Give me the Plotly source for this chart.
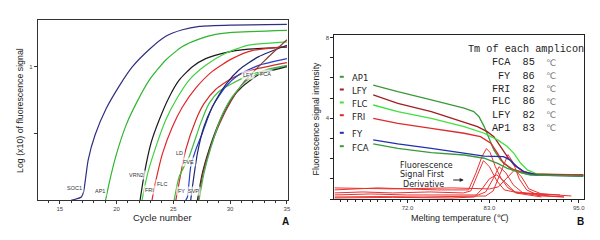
import plotly.graph_objects as go

# page body has an 8px margin: the figure is sized to fit the 600x240 window
OFF = 8
W, H = 600 - OFF, 240 - OFF

# ---------------- Panel A : amplification curves (cycle, log10 signal) -------------
soc1_x = [16.0, 16.9, 17.1, 17.5, 18.1, 19.1, 20.3, 21.4, 22.9, 24.3, 25.8, 27.3, 30.2, 35.0]
soc1_y = [-1.99, -1.94, -1.86, -1.39, -1.02, -0.62, -0.27, 0.0, 0.26, 0.45, 0.55, 0.60, 0.62, 0.63]
ap1_x = [19.03, 19.38, 19.96, 20.84, 21.72, 22.88, 24.34, 25.80, 27.26, 28.72, 30.18, 35.0]
ap1_y = [-1.99, -1.71, -1.32, -0.87, -0.55, -0.20, 0.10, 0.30, 0.41, 0.48, 0.51, 0.54]
vrn2_x = [22.07, 22.45, 23.03, 23.76, 24.64, 25.51, 26.68, 27.85, 29.6, 31.64, 35.0]
vrn2_y = [-1.99, -1.59, -1.14, -0.79, -0.45, -0.20, 0.0, 0.12, 0.21, 0.26, 0.29]
fri_x = [22.24, 22.74, 23.47, 24.34, 25.22, 26.39, 27.85, 29.6, 31.64, 35.0]
fri_y = [-1.99, -1.59, -1.19, -0.79, -0.50, -0.20, 0.02, 0.20, 0.32, 0.37]
flc_x = [23.12, 23.47, 24.05, 24.93, 25.80, 26.97, 28.43, 30.18, 31.93, 35.0]
flc_y = [-1.99, -1.69, -1.29, -0.89, -0.60, -0.32, -0.07, 0.12, 0.24, 0.30]
ld_x = [25.22, 25.66, 26.09, 26.97, 27.70, 28.72, 30.18, 31.93, 35.0]
ld_y = [-1.99, -1.59, -1.24, -0.80, -0.55, -0.34, -0.17, -0.05, 0.06]
fve_x = [25.07, 25.51, 26.39, 27.41, 28.14, 29.01, 30.18, 31.93, 35.0]
fve_y = [-1.99, -1.64, -1.34, -0.84, -0.55, -0.37, -0.25, -0.11, 0.01]
fy_x = [26.09, 26.24, 26.53, 26.97, 27.55, 28.43, 29.6, 30.77, 32.52, 35.0]
fy_y = [-1.99, -1.94, -1.49, -1.24, -0.99, -0.60, -0.30, -0.12, 0.02, 0.12]
svp_x = [26.53, 26.68, 27.12, 27.70, 28.43, 29.6, 30.77, 32.52, 35.0]
svp_y = [-1.99, -1.79, -1.29, -0.89, -0.60, -0.27, -0.05, 0.15, 0.32]
blk_x = [27.12, 27.55, 28.14, 29.01, 30.04, 31.06, 32.52, 35.0]
blk_y = [-1.99, -1.59, -1.24, -0.84, -0.50, -0.30, -0.12, 0.0]
brn_x = [27.2, 27.61, 28.2, 29.07, 30.09, 31.35, 33.1, 35.0]
brn_y = [-1.99, -1.59, -1.24, -0.85, -0.51, -0.20, 0.10, 0.40]
fca_x = [27.26, 27.7, 28.28, 29.16, 30.18, 31.35, 33.1, 35.0]
fca_y = [-1.99, -1.59, -1.22, -0.77, -0.45, -0.22, -0.05, 0.02]

a_series = [
    (soc1_x, soc1_y, '#2e2e82'), (ap1_x, ap1_y, '#2fb52f'), (vrn2_x, vrn2_y, '#1a1a1a'),
    (fri_x, fri_y, '#3fd03f'), (flc_x, flc_y, '#e0262a'), (ld_x, ld_y, '#d42a2a'),
    (fve_x, fve_y, '#3cbf3c'), (fy_x, fy_y, '#2a3fc8'), (svp_x, svp_y, '#1f2a6e'),
    (blk_x, blk_y, '#222222'), (brn_x, brn_y, '#8a4030'), (fca_x, fca_y, '#4caf50'),
]

a_label_text = ['SOC1', 'AP1', 'VRN2', 'FRI', 'FLC', 'LD', 'FVE', 'FY', 'SVP', 'LFY', 'FCA']
a_label_x = [16.31, 18.5, 21.72, 22.94, 23.96, 25.51, 26.3, 25.74, 26.77, 31.55, 33.1]
a_label_y = [-1.81, -1.85, -1.61, -1.83, -1.74, -1.28, -1.42, -1.85, -1.85, -0.12, -0.11]

a_xticks = [15, 20, 25, 30, 35]

# ---------------- Panel B : melting curves (temperature, intensity) -------------
m_ap1_x = [67.4, 70.7, 75.2, 79.6, 80.9, 81.6, 82.3, 82.9, 83.6, 84.5, 85.8, 87.6, 89.4, 95.6]
m_ap1_y = [5.65, 5.32, 4.91, 4.50, 4.33, 4.08, 3.59, 3.01, 2.43, 1.93, 1.52, 1.27, 1.19, 1.19]
m_lfy_x = [67.4, 70.7, 75.2, 78.7, 81.4, 82.7, 83.6, 84.5, 85.4, 86.3, 87.6, 89.4, 95.6]
m_lfy_y = [5.16, 4.74, 4.33, 3.92, 3.59, 3.34, 3.09, 2.60, 2.10, 1.69, 1.36, 1.19, 1.19]
m_flc_x = [67.4, 70.7, 75.2, 79.6, 82.3, 84.1, 85.4, 86.3, 87.2, 88.1, 89.4, 95.6]
m_flc_y = [4.66, 4.33, 4.00, 3.59, 3.26, 2.93, 2.60, 2.26, 1.77, 1.44, 1.24, 1.14]
m_fri_x = [67.4, 70.7, 75.2, 79.6, 81.8, 83.2, 84.1, 84.9, 86.3, 88.5, 95.6]
m_fri_y = [4.00, 3.75, 3.50, 3.26, 3.09, 2.76, 2.26, 1.77, 1.44, 1.24, 1.19]
m_fy_x = [67.4, 70.7, 75.2, 79.6, 82.3, 84.9, 85.8, 86.7, 87.6, 89.4, 95.6]
m_fy_y = [2.93, 2.73, 2.51, 2.26, 2.13, 2.10, 1.93, 1.60, 1.36, 1.19, 1.14]
m_fca_x = [67.4, 70.7, 75.2, 79.6, 82.3, 84.1, 85.4, 86.7, 88.5, 95.6]
m_fca_y = [2.73, 2.51, 2.30, 2.18, 2.02, 1.77, 1.52, 1.36, 1.19, 1.14]

b_series = [
    (m_ap1_x, m_ap1_y, '#3a9a3a'), (m_lfy_x, m_lfy_y, '#a02020'), (m_flc_x, m_flc_y, '#40e040'),
    (m_fri_x, m_fri_y, '#dd2b2b'), (m_fy_x, m_fy_y, '#2030b0'), (m_fca_x, m_fca_y, '#3a9a3a'),
]

# first-derivative curves
d1_x = [62.2, 65, 68, 72, 76, 80.2, 81.2, 82.0, 82.6, 83.1, 83.8, 84.6, 85.5, 86.5, 88, 92.5]
d1_y = [0.45, 0.5, 0.55, 0.5, 0.45, 0.45, 1.3, 2.1, 2.5, 2.3, 1.6, 1.0, 0.55, 0.35, 0.3, 0.2]
d2_x = [62.2, 66, 70, 75, 79.5, 80.5, 81.4, 82.2, 83.0, 84.0, 85.0, 87, 91]
d2_y = [0.3, 0.35, 0.3, 0.35, 0.3, 0.4, 1.2, 1.9, 1.6, 0.9, 0.45, 0.3, 0.2]
d3_x = [62.2, 67, 72, 78, 81.5, 82.5, 83.5, 84.3, 85.2, 86.2, 87.5, 90, 93]
d3_y = [0.2, 0.25, 0.2, 0.2, 0.2, 0.35, 1.0, 1.6, 1.3, 0.7, 0.3, 0.15, 0.1]
d4_x = [62.2, 68, 74, 80, 82.5, 83.5, 84.6, 85.5, 86.2, 87.0, 88.0, 89.5, 93]
d4_y = [0.1, 0.12, 0.1, 0.12, 0.15, 0.4, 1.4, 2.2, 1.8, 1.0, 0.45, 0.2, 0.1]
d5_x = [62.2, 70, 78, 83, 84.2, 85.3, 86.4, 87.3, 88.3, 90, 94]
d5_y = [0.55, 0.5, 0.55, 0.5, 0.6, 1.0, 1.45, 1.1, 0.5, 0.25, 0.15]
d6_x = [62.2, 70, 78, 81.0, 82.0, 83.0, 84.0, 85.2, 86.5, 90]
d6_y = [0.05, 0.08, 0.05, 0.1, 0.5, 1.0, 1.2, 0.8, 0.3, 0.1]
deriv = [(d1_x, d1_y), (d2_x, d2_y), (d3_x, d3_y), (d4_x, d4_y), (d5_x, d5_y), (d6_x, d6_y)]

legend_names = ['AP1', 'LFY', 'FLC', 'FRI', 'FY', 'FCA']
legend_colors = ['#3a9a3a', '#a02020', '#40e040', '#dd2b2b', '#2030b0', '#3a9a3a']
legend_text_y = [78.3, 91.0, 104.0, 116.7, 134.3, 147.7]

tm_genes = ['FCA', 'FY', 'FRI', 'FLC', 'LFY', 'AP1']
tm_values = [85, 86, 82, 86, 82, 83]
tm_row_y = [62.7, 76.0, 89.3, 101.7, 115.0, 128.3]

b_xticks = [72.0, 83.0, 95.0]
b_yticks = [0, 1, 2, 3, 4, 5, 6, 7, 8]
b_yticktext = ['', '', '', '', '4', '', '', '', '8']

# ---------------- figure ----------------
fig = go.Figure()
for xs, ys, c in a_series:
    fig.add_trace(go.Scatter(x=xs, y=ys, mode='lines', line=dict(color=c, width=1.2, shape='spline', smoothing=0.6),
                             xaxis='x', yaxis='y', showlegend=False, hoverinfo='skip'))
for xs, ys in deriv:
    fig.add_trace(go.Scatter(x=xs, y=ys, mode='lines', line=dict(color='#e8302f', width=1),
                             xaxis='x2', yaxis='y2', showlegend=False, hoverinfo='skip'))
for xs, ys, c in b_series:
    fig.add_trace(go.Scatter(x=xs, y=ys, mode='lines', line=dict(color=c, width=1.3),
                             xaxis='x2', yaxis='y2', showlegend=False, hoverinfo='skip'))


def px(x):
    return (x - OFF) / W


def py(y):
    return 1 - (y - OFF) / H


ann = []


def text(x, y, t, size, family='Arial', color='#222', xanchor='center', angle=0):
    ann.append(dict(x=px(x), y=py(y), xref='paper', yref='paper', text=t, showarrow=False,
                    xanchor=xanchor, yanchor='middle', textangle=angle,
                    font=dict(family=family, size=size, color=color)))


# Panel A curve labels
for t, x, y in zip(a_label_text, a_label_x, a_label_y):
    ann.append(dict(x=x, y=y, xref='x', yref='y', text=t, showarrow=False, xanchor='center', yanchor='middle',
                    font=dict(family='Arial', size=5.5, color='#333'), bgcolor='rgba(255,255,255,0.7)'))
# axis titles A
text(163, 217, 'Cycle number', 9.5)
text(20, 110, 'Log (x10) of fluorescence signal', 8.8, angle=-90)
text(287, 221, '<b>A</b>', 10, color='#111')
# axis titles B
text(462, 218, 'Melting temperature (℃)', 9)
text(318, 118, 'Fluorescence signal intensity', 8.8, angle=-90)
text(583, 221, '<b>B</b>', 10, color='#111')
# legend B
shapes = []
for name, col, ty in zip(legend_names, legend_colors, legend_text_y):
    text(352, ty, name, 8.5, family='DejaVu Sans', xanchor='left')
    shapes.append(dict(type='line', xref='paper', yref='paper', x0=px(341.5), x1=px(345.5),
                       y0=py(ty - 1.5), y1=py(ty - 1.5), line=dict(color=col, width=2)))
# Tm table
text(468, 49, 'Tm of each amplicon', 10.2, family='Liberation Mono', xanchor='left')
for g, v, ry in zip(tm_genes, tm_values, tm_row_y):
    text(540, ry, f'{g}  {v}', 10.2, family='Liberation Mono', xanchor='right')
    text(547, ry, '℃', 9, family='DejaVu Sans', color='#777', xanchor='left')
# derivative note
for t, lx, ly in [('Fluorescence', 400, 165), ('Signal First', 400, 174.5), ('Derivative', 403, 184)]:
    text(lx, ly, t, 8, family='DejaVu Sans', xanchor='left')
ann.append(dict(x=px(466), y=py(180), xref='paper', yref='paper', text='', showarrow=True, ax=-12, ay=0,
                arrowhead=2, arrowsize=0.8, arrowwidth=1, arrowcolor='#222'))

tickfont = dict(family='Arial', size=6, color='#444')
fig.update_layout(
    width=W, height=H, margin=dict(l=0, r=0, t=0, b=0),
    paper_bgcolor='white', plot_bgcolor='white', showlegend=False,
    xaxis=dict(domain=[px(38), px(289)], range=[13.07, 35.06], tickvals=a_xticks, ticks='outside', ticklen=3,
               tickcolor='#333', showline=True, mirror=True, linecolor='#333', linewidth=1.3, showgrid=False,
               zeroline=False, tickfont=tickfont, minor=dict(ticks='outside', dtick=1, tick0=15, ticklen=2,
               tickcolor='#333'), anchor='y'),
    yaxis=dict(domain=[py(200), py(20)], range=[-1.985, 0.695], tickvals=[-1, 0], ticktext=['', '1'],
               ticks='outside', ticklen=3, tickcolor='#333', showline=True, mirror=True, linecolor='#333',
               linewidth=1.3, showgrid=False, zeroline=False, tickfont=tickfont, anchor='x'),
    xaxis2=dict(domain=[px(336), px(587)], range=[62.18, 95.71], tickvals=b_xticks,
                ticktext=[f'{v:.1f}' for v in b_xticks], ticks='outside', ticklen=3, tickcolor='#222',
                showline=True, mirror=True, linecolor='#222', linewidth=1, showgrid=False, zeroline=False,
                tickfont=tickfont, minor=dict(ticks='outside', dtick=1, tick0=62, ticklen=2, tickcolor='#222'),
                anchor='y2'),
    yaxis2=dict(domain=[py(199), py(35)], range=[0, 8.13], tickvals=b_yticks, ticktext=b_yticktext,
                ticks='outside', ticklen=3, tickcolor='#222', showline=True, mirror=True, linecolor='#222',
                linewidth=1, showgrid=False, zeroline=False, tickfont=tickfont, anchor='x2'),
    annotations=ann, shapes=shapes,
)

fig.write_html('out.html')
